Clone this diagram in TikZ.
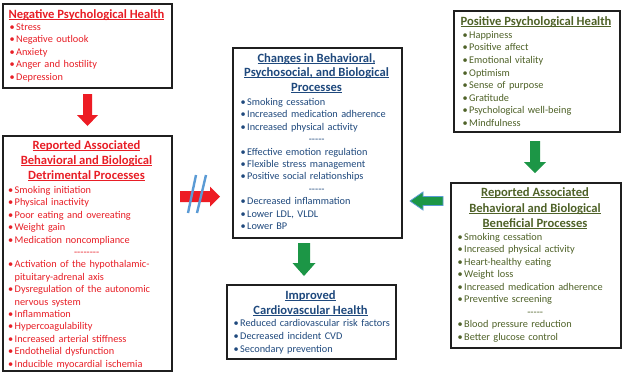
\documentclass[tikz,border=0pt]{standalone}
\usepackage{fontspec}
\setmainfont{Carlito}
\definecolor{redT}{RGB}{232,30,38}
\definecolor{redA}{RGB}{237,28,36}
\definecolor{blueT}{RGB}{31,73,125}
\definecolor{greenT}{RGB}{79,98,40}
\definecolor{greenA}{RGB}{28,150,70}
\definecolor{slashB}{RGB}{91,155,213}
\newcommand\lib[1]{\makebox[6.5pt][l]{\textbullet}#1}
\newcommand\lic[1]{\hspace*{6.5pt}#1}
\newcommand\lis[1]{\makebox[\linewidth]{#1}}
\newcommand\dd[1]{\foreach \j in {1,...,#1}{\hbox{-}}}
\newcommand\ul[1]{\setbox0\hbox{#1}\rlap{\rule[-1.4pt]{\wd0}{0.75pt}}\box0}
% #1 x0, #2 first baseline, #3 width, #4 spacing, #5 prefix, #6 list
\newcommand\itemlist[6]{%
  \foreach \k/\t [count=\i] in {#6} {
    \node[itemtxt, text width=#3pt, anchor=base west] (#5\i) at (#1, {#2+#4*(\i-1)}) {\csname li\k\endcsname{\t}};
  }}
\tikzset{
  box/.style={draw=black!88, line width=1.6pt, fill=white, inner sep=0pt},
  itemtxt/.style={inner sep=0pt, align=left, font=\fontsize{10.3}{12}\selectfont},
  ttl/.style={inner sep=0pt, anchor=base, font=\bfseries\fontsize{12.6}{14}\selectfont},
  slash/.style={draw=slashB, line width=2.4pt},
  pics/barrow/.style n args={4}{code={
    \path[pic actions] (0,-#2) -- ({#1-#4},-#2) -- ({#1-#4},-#3) -- (#1,0) -- ({#1-#4},#3) -- ({#1-#4},#2) -- (0,#2) -- cycle;}}
}
\begin{document}
\begin{tikzpicture}[x=1pt,y=-1pt]
\useasboundingbox[fill=white] (0,0) rectangle (624,376);

% boxes
\node[box, minimum width=169pt, minimum height=84pt, anchor=north west] (neg) at (2,3) {};
\node[box, minimum width=169pt, minimum height=235pt, anchor=north west] (det) at (2,135) {};
\node[box, minimum width=169pt, minimum height=190pt, anchor=north west] (chg) at (232,47) {};
\node[box, minimum width=169pt, minimum height=74pt, anchor=north west] (imp) at (226,284) {};
\node[box, minimum width=166pt, minimum height=121pt, anchor=north west] (pos) at (453,10) {};
\node[box, minimum width=170pt, minimum height=165pt, anchor=north west] (ben) at (450,182) {};

% Negative
\node[ttl, text=redT] (negT) at (86.5,18) {\ul{Negative Psychological Health}};
\begin{scope}[text=redT]
\itemlist{9.5}{30.4}{154}{12.45}{negL}{b/Stress, b/Negative outlook, b/Anxiety, b/Anger and hostility, b/Depression}
\end{scope}

% Detrimental
\node[ttl, text=redT] (detT1) at (86.5,149) {\ul{Reported Associated}};
\node[ttl, text=redT] (detT2) at (86.5,164) {\ul{Behavioral and Biological}};
\node[ttl, text=redT] (detT3) at (86.5,179) {\ul{Detrimental Processes}};
\begin{scope}[text=redT]
\itemlist{8}{193.4}{157}{12.4}{detL}{b/Smoking initiation, b/Physical inactivity, b/Poor eating and overeating, b/Weight gain, b/Medication noncompliance, s/\dd{8}, b/Activation of the hypothalamic-, c/pituitary-adrenal axis, b/Dysregulation of the autonomic, c/nervous system, b/Inflammation, b/Hypercoagulability, b/Increased arterial stiffness, b/Endothelial dysfunction, b/Inducible myocardial ischemia}
\end{scope}

% Changes
\node[ttl, text=blueT] (chgT1) at (316.5,62) {\ul{Changes in Behavioral,}};
\node[ttl, text=blueT] (chgT2) at (316.5,76.5) {\ul{Psychosocial, and Biological}};
\node[ttl, text=blueT] (chgT3) at (316.5,91) {\ul{Processes}};
\begin{scope}[text=blueT]
\itemlist{240.5}{105.4}{152}{12.4}{chgL}{b/Smoking cessation, b/Increased medication adherence, b/Increased physical activity, s/\dd{5}, b/Effective emotion regulation, b/Flexible stress management, b/Positive social relationships, s/\dd{5}, b/Decreased inflammation, b/{Lower LDL, VLDL}, b/Lower BP}
\end{scope}

% Improved
\node[ttl, text=blueT] (impT1) at (310.5,299) {\ul{Improved}};
\node[ttl, text=blueT] (impT2) at (310.5,314) {\ul{Cardiovascular Health}};
\begin{scope}[text=blueT]
\itemlist{233.5}{326.5}{175}{12.8}{impL}{b/Reduced cardiovascular risk factors, b/Decreased incident CVD, b/Secondary prevention}
\end{scope}

% Positive
\node[ttl, text=greenT] (posT) at (536,25) {\ul{Positive Psychological Health}};
\begin{scope}[text=greenT]
\itemlist{462.5}{38.4}{147}{12.55}{posL}{b/Happiness, b/Positive affect, b/Emotional vitality, b/Optimism, b/Sense of purpose, b/Gratitude, b/Psychological well-being, b/Mindfulness}
\end{scope}

% Beneficial
\node[ttl, text=greenT] (benT1) at (535,196) {\ul{Reported Associated}};
\node[ttl, text=greenT] (benT2) at (535,212) {\ul{Behavioral and Biological}};
\node[ttl, text=greenT] (benT3) at (535,227) {\ul{Beneficial Processes}};
\begin{scope}[text=greenT]
\itemlist{457.5}{240.4}{155}{12.5}{benL}{b/Smoking cessation, b/Increased physical activity, b/Heart-healthy eating, b/Weight loss, b/Increased medication adherence, b/Preventive screening, s/\dd{5}, b/Blood pressure reduction, b/Better glucose control}
\end{scope}

% block arrows
\pic[fill=redA, rotate=-90] (a1) at (87.5,94) {barrow={32}{4.5}{10.5}{11}};
\pic[fill=redA] (a2) at (180,196.5) {barrow={40}{5.5}{10}{10}};
\pic[fill=greenA, rotate=-90] (a3) at (304,243) {barrow={33}{6}{11.5}{13}};
\pic[fill=greenA, rotate=-90] (a4) at (535,141) {barrow={32}{5}{11}{11}};
\pic[fill=greenA, draw=slashB, line width=0.8pt, rotate=180] (a5) at (443,201) {barrow={33}{4.5}{9}{13}};

% slashes
\draw[slash] (196,175) -- (188,213);
\draw[slash] (206,175) -- (197,213);
\end{tikzpicture}
\end{document}
